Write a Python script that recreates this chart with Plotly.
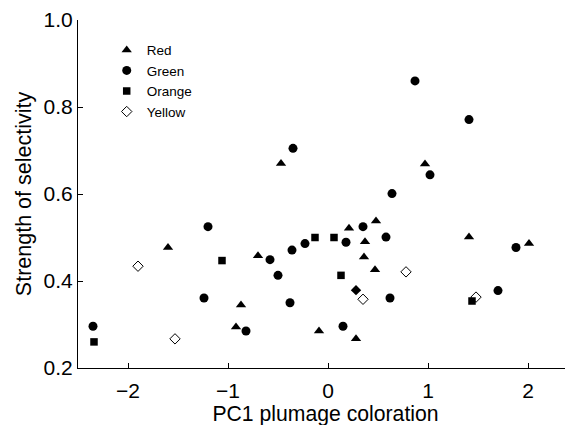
import plotly.graph_objects as go

# Red (triangles)
red_x = [-1.60, -0.92, -0.87, -0.70, -0.47, -0.09, 0.21, 0.28, 0.36, 0.37, 0.47, 0.48, 0.97, 1.41, 2.01]
red_y = [0.477, 0.294, 0.345, 0.458, 0.670, 0.285, 0.521, 0.267, 0.455, 0.490, 0.426, 0.538, 0.669, 0.501, 0.486]

# Green (circles)
green_x = [-2.35, -1.24, -1.20, -0.82, -0.58, -0.50, -0.38, -0.36, -0.35, -0.23, 0.15,
           0.18, 0.35, 0.58, 0.62, 0.64, 0.87, 1.02, 1.41, 1.70, 1.88]
green_y = [0.296, 0.361, 0.525, 0.285, 0.449, 0.413, 0.350, 0.471, 0.705, 0.486, 0.296,
           0.489, 0.525, 0.501, 0.361, 0.601, 0.860, 0.644, 0.771, 0.378, 0.477]

# Orange (squares)
orange_x = [-2.34, -1.06, -0.13, 0.06, 0.13, 1.44]
orange_y = [0.260, 0.447, 0.500, 0.500, 0.413, 0.354]

# Yellow (open diamonds)
yellow_x = [-1.90, -1.53, 0.35, 0.78, 1.48]
yellow_y = [0.434, 0.267, 0.358, 0.421, 0.363]

# filled diamond (not in legend)
filled_x = [0.28]
filled_y = [0.379]

x_ticks = [-2, -1, 0, 1, 2]
y_ticks = [0.2, 0.4, 0.6, 0.8, 1.0]
y_tick_labels = ["0.2", "0.4", "0.6", "0.8", "1.0"]

FONT = "Arial, Liberation Sans, sans-serif"

fig = go.Figure()
fig.add_trace(go.Scatter(x=red_x, y=red_y, mode="markers", name="Red",
                         marker=dict(symbol="triangle-up", size=9, color="black")))
fig.add_trace(go.Scatter(x=green_x, y=green_y, mode="markers", name="Green",
                         marker=dict(symbol="circle", size=9, color="black")))
fig.add_trace(go.Scatter(x=orange_x, y=orange_y, mode="markers", name="Orange",
                         marker=dict(symbol="square", size=7.5, color="black")))
fig.add_trace(go.Scatter(x=yellow_x, y=yellow_y, mode="markers", name="Yellow",
                         marker=dict(symbol="diamond-open", size=8, color="black",
                                     line=dict(width=1, color="black"))))
fig.add_trace(go.Scatter(x=filled_x, y=filled_y, mode="markers", showlegend=False,
                         marker=dict(symbol="diamond", size=8, color="black")))

fig.update_layout(
    width=573, height=425,
    margin=dict(l=70, r=8, t=12, b=65),
    paper_bgcolor="white", plot_bgcolor="white",
    font=dict(family=FONT, size=21, color="black"),
    showlegend=True,
    legend=dict(x=0.058, y=0.958, xanchor="left", yanchor="top",
                bgcolor="rgba(0,0,0,0)", font=dict(size=13.5, family=FONT),
                itemwidth=30, tracegroupgap=0),
    xaxis=dict(range=[-2.5, 2.45], tickvals=x_ticks, ticks="inside", ticklen=5,
               tickcolor="black", showline=True, linecolor="black", linewidth=1,
               showgrid=False, zeroline=False, mirror=False, automargin=False,
               ticklabelstandoff=4,
               title=dict(text="PC1 plumage coloration", standoff=0, font=dict(size=21.2)),
               tickfont=dict(size=21)),
    yaxis=dict(range=[0.2, 1.0], tickvals=y_ticks, ticktext=y_tick_labels,
               ticks="inside", ticklen=5,
               tickcolor="black", showline=True, linecolor="black", linewidth=1,
               showgrid=False, zeroline=False, mirror=False, automargin=False,
               title=dict(text="Strength of selectivity", standoff=6, font=dict(size=21.5)),
               tickfont=dict(size=21)),
)

fig.write_html("out.html")
